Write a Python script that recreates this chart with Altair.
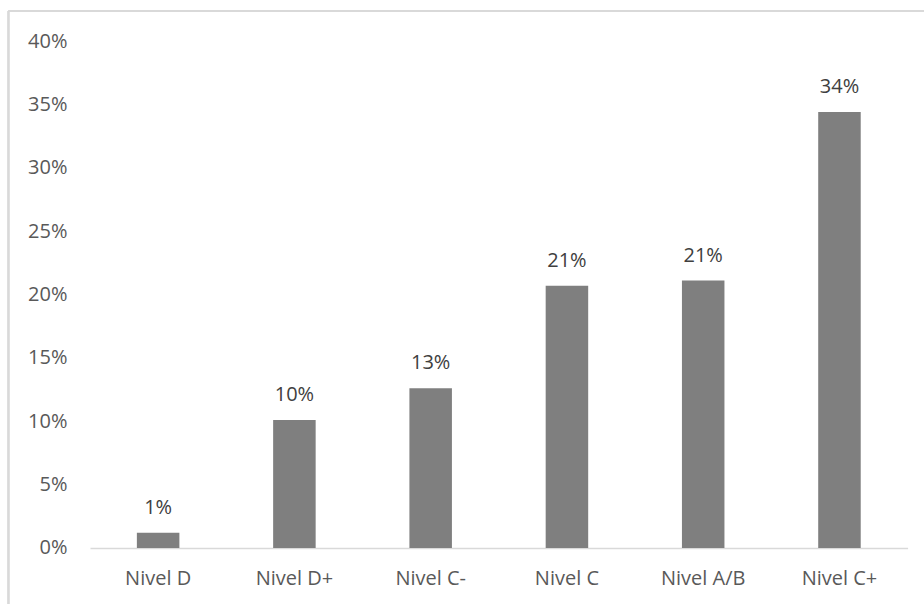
import altair as alt
import pandas as pd

# Share of respondents per socioeconomic level
niveles = ["Nivel D", "Nivel D+", "Nivel C-", "Nivel C", "Nivel A/B", "Nivel C+"]
porcentajes = [0.012, 0.101, 0.126, 0.207, 0.211, 0.344]
ticks_y = [0, 0.05, 0.10, 0.15, 0.20, 0.25, 0.30, 0.35, 0.40]

df = pd.DataFrame({"nivel": niveles, "pct": porcentajes})

FONT = "Open Sans"
W, H = 817.6, 507

x_enc = alt.X(
    "nivel:N",
    sort=niveles,
    title=None,
    scale=alt.Scale(paddingInner=0.688, paddingOuter=0.344),
    axis=alt.Axis(
        labelAngle=0,
        labelFont=FONT,
        labelFontSize=20,
        labelColor="#595959",
        labelBaseline="middle",
        labelPadding=31,
        ticks=False,
        domainColor="#d9d9d9",
        domainWidth=1.5,
    ),
)
y_enc = alt.Y(
    "pct:Q",
    title=None,
    scale=alt.Scale(domain=[0, 0.40], nice=False),
    axis=alt.Axis(
        values=ticks_y,
        format=".0%",
        labelFont=FONT,
        labelFontSize=20,
        labelColor="#595959",
        labelPadding=23,
        ticks=False,
        domain=False,
        grid=False,
    ),
)

bars = alt.Chart(df).mark_bar(color="#7f7f7f").encode(x=x_enc, y=y_enc)

labels = alt.Chart(df).mark_text(
    font=FONT, fontSize=20, color="#404040", baseline="middle", dy=-25
).encode(
    x=alt.X("nivel:N", sort=niveles),
    y="pct:Q",
    text=alt.Text("pct:Q", format=".0%"),
)

# Light frame around the chart (top and left edges)
frame_top = alt.Chart(df).mark_rule(color="#d9d9d9", strokeWidth=1.5).encode(
    x=alt.value(-81.5), x2=alt.value(840), y=alt.value(-30)
)
frame_left = alt.Chart(df).mark_rule(color="#d9d9d9", strokeWidth=1.5).encode(
    x=alt.value(-81.5), y=alt.value(-30), y2=alt.value(570)
)

chart = (
    alt.layer(frame_top, frame_left, bars, labels)
    .properties(
        width=W,
        height=H,
        background="white",
        autosize=alt.AutoSizeParams(type="none"),
        padding={"left": 90, "top": 41, "right": 16, "bottom": 56},
    )
    .configure_view(stroke="transparent", strokeWidth=0)
)

chart.save("out.html", embed_options={"renderer": "svg", "actions": False})
